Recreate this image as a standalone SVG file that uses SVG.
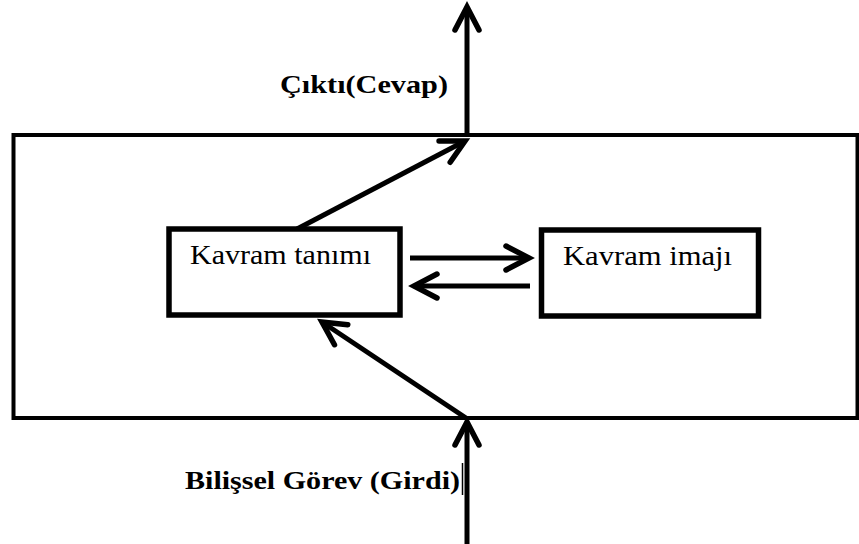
<svg xmlns="http://www.w3.org/2000/svg" width="859" height="544" viewBox="0 0 859 544">
  <style>
    .frame { fill: none; stroke: #000; stroke-width: 4; }
    .box { fill: #fff; stroke: #000; stroke-width: 5.5; }
    .label { font-family: "Liberation Serif", "Times New Roman", serif; fill: #000; }
    .bold { font-weight: bold; font-size: 26px; }
    .reg { font-size: 28px; }
    .wire { fill: none; stroke: #000; stroke-width: 5; }
  </style>
  <defs>
    <marker id="head" markerUnits="userSpaceOnUse" orient="auto" markerWidth="40" markerHeight="40" refX="0" refY="0" viewBox="-30 -20 40 40" overflow="visible">
      <path d="M-23,-12 L0,0 L-23,12" fill="none" stroke="#000" stroke-width="5.5" stroke-linecap="round" stroke-linejoin="miter"/>
    </marker>
  </defs>

  <rect width="859" height="544" fill="#fff"/>

  <!-- process frame -->
  <g id="frame">
    <rect class="frame" x="13.5" y="135" width="844" height="283"/>
  </g>

  <g id="connectors">
    <!-- output leaving the frame -->
    <line class="wire" x1="467" y1="135" x2="467" y2="7" marker-end="url(#head)"/>
    <!-- definition to output -->
    <line class="wire" x1="297" y1="229" x2="465" y2="141" marker-end="url(#head)"/>
    <!-- input entering the frame -->
    <line class="wire" x1="467" y1="544" x2="467" y2="422" marker-end="url(#head)"/>
    <!-- input to definition -->
    <line class="wire" x1="466" y1="418" x2="322" y2="322" marker-end="url(#head)"/>
    <!-- definition <-> image -->
    <line class="wire" x1="410" y1="258" x2="529" y2="258" marker-end="url(#head)"/>
    <line class="wire" x1="530" y1="286" x2="414" y2="286" marker-end="url(#head)"/>
  </g>

  <g id="node-tanim">
    <rect class="box" x="169" y="229" width="231" height="86"/>
    <text class="label reg" x="190" y="264" textLength="181" lengthAdjust="spacingAndGlyphs">Kavram tanımı</text>
  </g>

  <g id="node-imaj">
    <rect class="box" x="541.5" y="230" width="217" height="86"/>
    <text class="label reg" x="563" y="265" textLength="169" lengthAdjust="spacingAndGlyphs">Kavram imajı</text>
  </g>

  <g id="label-output">
    <text class="label bold" x="280" y="93" textLength="168" lengthAdjust="spacingAndGlyphs">Çıktı(Cevap)</text>
  </g>

  <g id="label-input">
    <text class="label bold" x="185" y="489" textLength="275" lengthAdjust="spacingAndGlyphs">Bilişsel Görev (Girdi)</text>
    <line x1="462.5" y1="463" x2="462.5" y2="495" stroke="#000" stroke-width="1.5"/>
  </g>
</svg>
